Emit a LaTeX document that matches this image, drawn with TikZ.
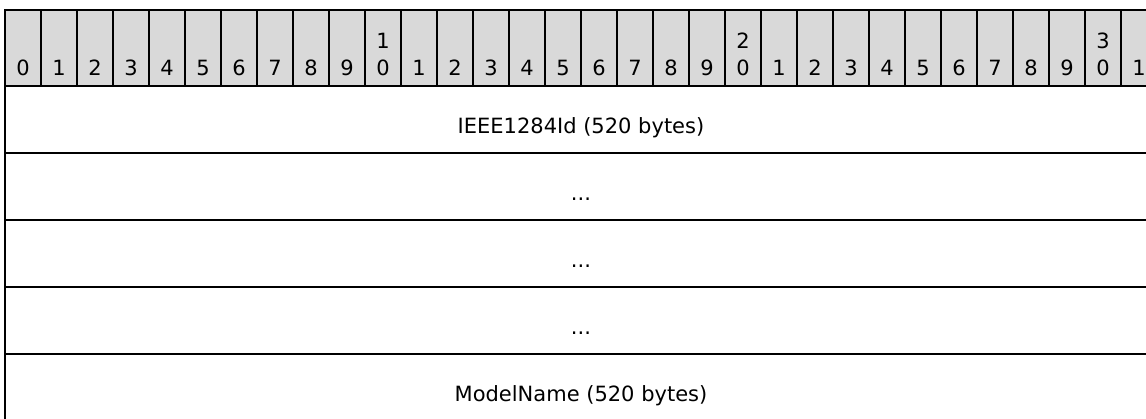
\documentclass[tikz,border=0pt]{standalone}
\usepackage{fontspec}
\setmainfont{DejaVu Sans}
\usepackage{xcolor}
\usetikzlibrary{positioning}
\definecolor{hdrgray}{RGB}{217,217,217}

\begin{document}
\begin{tikzpicture}[
    x=0.75pt, y=-0.75pt,
    every node/.style={font=\fontsize{15.75}{19}\selectfont, inner sep=0pt, outer sep=0pt},
    hdrcell/.style={draw, fill=hdrgray, line width=1.5pt, minimum width=27pt,
        minimum height=57pt, text height=49.3pt, text depth=7.7pt},
    fieldrow/.style={draw, line width=1.5pt, minimum width=864pt,
        minimum height=50.25pt, text height=35.25pt, text depth=15pt},
]
\useasboundingbox (0,0) rectangle (1146,418);

% =====================================================================
% Header: bit numbers 0..31
% =====================================================================
\foreach \i in {0,...,31} {
    \pgfmathtruncatemacro{\ones}{mod(\i,10)}
    \pgfmathtruncatemacro{\tens}{\i/10}
    \node[hdrcell] (h\i) at (23+36*\i,48) {\ones};
    \ifnum\ones=0 \ifnum\tens>0
        \node[anchor=base] (t\i) at (23+36*\i,48.3) {\tens};
    \fi\fi
}

% =====================================================================
% Fields
% =====================================================================
\node[fieldrow] (ieee) at (581,119.5) {IEEE1284Id (520 bytes)};
\node[fieldrow, below=0pt of ieee] (gap1) {...};
\node[fieldrow, below=0pt of gap1] (gap2) {...};
\node[fieldrow, below=0pt of gap2] (gap3) {...};
\node[fieldrow, below=0pt of gap3] (model) {ModelName (520 bytes)};

\end{tikzpicture}
\end{document}
